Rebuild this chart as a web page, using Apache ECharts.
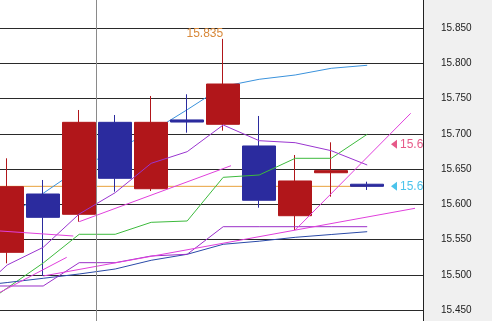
<!DOCTYPE html>
<html><head><meta charset="utf-8">
<script src="https://cdn.jsdelivr.net/npm/echarts@6/dist/echarts.min.js"></script>
<style>html,body{margin:0;padding:0;background:#fff}#c{width:492px;height:321px}</style>
</head><body><div id="c"></div>
<script>
// ---- data ----
const candleIndex = [0, 1, 2, 3, 4, 5, 6, 7, 8, 9, 10];
const opens  = [15.5319, 15.6147, 15.5859, 15.7165, 15.6222, 15.7199, 15.7137, 15.6829, 15.5839, 15.6449, 15.6286];
const closes = [15.6251, 15.5816, 15.7165, 15.6370, 15.7165, 15.7169, 15.7709, 15.6058, 15.6332, 15.6479, 15.6256];
const lows   = [15.5163, 15.4983, 15.5754, 15.6180, 15.6190, 15.7018, 15.7046, 15.5953, 15.5636, 15.6109, 15.6204];
const highs  = [15.6654, 15.6346, 15.7340, 15.7269, 15.7539, 15.7563, 15.8350, 15.7255, 15.6701, 15.6881, 15.6322];

const maIndex     = [-1, 0, 1, 2, 3, 4, 5, 6, 7, 8, 9, 10];
const maLightBlue = [null, 15.5821, 15.6157, 15.6506, 15.6772, 15.7028, 15.7344, 15.7674, 15.7776, 15.7837, 15.7932, 15.7975];
const maPurpleA   = [15.4670, 15.5139, 15.5390, 15.5863, 15.6166, 15.6583, 15.6748, 15.7127, 15.6904, 15.6876, 15.6762, 15.6559];
const maGreen     = [15.4457, 15.4812, 15.5167, 15.5575, 15.5575, 15.5745, 15.5764, 15.6384, 15.6417, 15.6654, 15.6654, 15.6995];
const maBlue      = [15.4834, 15.4890, 15.4950, 15.5011, 15.5082, 15.5206, 15.5291, 15.5433, 15.5477, 15.5532, 15.5572, 15.5612];
const maPurpleB   = [15.4841, 15.4841, 15.4841, 15.5172, 15.5172, 15.5267, 15.5291, 15.5683, 15.5683, 15.5683, 15.5683, 15.5683];

const trendA = [[1.0, 15.4983], [11.328, 15.5944]];
const trendB = [[2.0, 15.5754], [6.217, 15.6549]];
const trendC = [[-0.2, 15.5622], [1.836, 15.5551]];
const trendD = [[-0.2, 15.4751], [1.653, 15.5248]];
const trendE = [[8.0, 15.5636], [11.208, 15.7293]];

const currentPrice = 15.6256;
const currentLineRange = [-0.2, 10];
const upperMarkPrice = 15.6853;
const markIndex = 10.744;
const separatorIndex = 2.458;
const yTickMin = 15.40, yTickMax = 15.90, yTickStep = 0.05;
const highIndex = 6;

// ---- chart ----
const chart = echarts.init(document.getElementById('c'), null, {renderer: 'canvas'});
const RED = '#b1161a', BLUE = '#2b2b9e';
const FONT = 'Liberation Sans, Arial, sans-serif';

function pairs(idx, vals) {
  const out = [];
  idx.forEach((x, i) => { if (vals[i] != null) out.push([x, vals[i]]); });
  return out;
}
function lineSeries(name, data, color, z) {
  return {
    name, type: 'line', data, z, symbol: 'none', showSymbol: false,
    lineStyle: {color, width: 1}, itemStyle: {color}, silent: true, animation: false, clip: true
  };
}

const candleData = candleIndex.map((x, i) => [x, opens[i], closes[i], lows[i], highs[i]]);

const option = {
  animation: false,
  grid: {left: 0, top: -6.91, width: 423, height: 352.125, containLabel: false, outerBoundsMode: 'none'},
  xAxis: {type: 'value', min: -0.2, max: 11.55, show: false},
  yAxis: [
    {type: 'value', position: 'left', min: yTickMin, max: yTickMax, interval: yTickStep,
     axisLine: {show: false}, axisTick: {show: false}, axisLabel: {show: false},
     splitLine: {show: true, lineStyle: {color: '#2a2a2a', width: 1}}},
    {type: 'value', position: 'right', min: yTickMin, max: yTickMax, interval: yTickStep, z: 60,
     axisLine: {show: true, lineStyle: {color: '#222', width: 1}}, axisTick: {show: false},
     splitLine: {show: false},
     axisLabel: {show: true, margin: 18, color: '#222', fontSize: 10, fontFamily: FONT,
       formatter: v => v.toFixed(3)}}
  ],
  graphic: [{
    type: 'rect', z: 50, silent: true,
    shape: {x: 423, y: 0, width: 69, height: 321},
    style: {fill: '#f0f0f0'}
  }],
  series: [
    Object.assign(lineSeries('current', [[currentLineRange[0], currentPrice], [currentLineRange[1], currentPrice]], '#e8a23c', 1), {
      markLine: {
        silent: true, symbol: ['none', 'none'], label: {show: false}, animation: false,
        lineStyle: {color: '#8a8a8a', width: 1, type: 'solid'},
        data: [{xAxis: separatorIndex}]
      }
    }),
    lineSeries('maLightBlue', pairs(maIndex, maLightBlue), '#3a92dc', 1),
    {
      name: 'price', type: 'candlestick', z: 2, barWidth: 34, data: candleData,
      itemStyle: {color: RED, color0: BLUE, borderColor: RED, borderColor0: BLUE, borderWidth: 1},
      markPoint: {
        symbolSize: 0, silent: true, animation: false,
        data: [{coord: [candleIndex[highIndex], highs[highIndex]], value: highs[highIndex]}],
        label: {show: true, position: 'left', distance: 0, offset: [0, -5], color: '#d8893a',
          fontSize: 12, fontFamily: FONT, formatter: p => p.value.toFixed(3)}
      }
    },
    lineSeries('maGreen', pairs(maIndex, maGreen), '#3dba3d', 3),
    lineSeries('maBlue', pairs(maIndex, maBlue), '#2a4aa8', 3),
    lineSeries('maPurpleB', pairs(maIndex, maPurpleB), '#9a2fc8', 3),
    lineSeries('maPurpleA', pairs(maIndex, maPurpleA), '#9a35d0', 3),
    lineSeries('trendA', trendA, '#e040dc', 3),
    lineSeries('trendB', trendB, '#e040dc', 3),
    lineSeries('trendC', trendC, '#e040dc', 3),
    lineSeries('trendD', trendD, '#e040dc', 3),
    lineSeries('trendE', trendE, '#e040dc', 3),
    {
      name: 'upperMark', type: 'scatter', z: 4, silent: true,
      data: [[markIndex, upperMarkPrice]], symbol: 'triangle', symbolSize: [9, 6], symbolRotate: 90,
      itemStyle: {color: '#e0306a'},
      label: {show: true, position: 'right', distance: 3, color: '#e0306a', fontSize: 12, fontFamily: FONT,
        formatter: p => p.value[1].toFixed(3)}
    },
    {
      name: 'currentMark', type: 'scatter', z: 4, silent: true,
      data: [[markIndex, currentPrice]], symbol: 'triangle', symbolSize: [9, 6], symbolRotate: 90,
      itemStyle: {color: '#1eb4e6'},
      label: {show: true, position: 'right', distance: 3, color: '#1eb4e6', fontSize: 12, fontFamily: FONT,
        formatter: p => p.value[1].toFixed(3)}
    }
  ]
};
chart.setOption(option);
</script>
</body></html>
